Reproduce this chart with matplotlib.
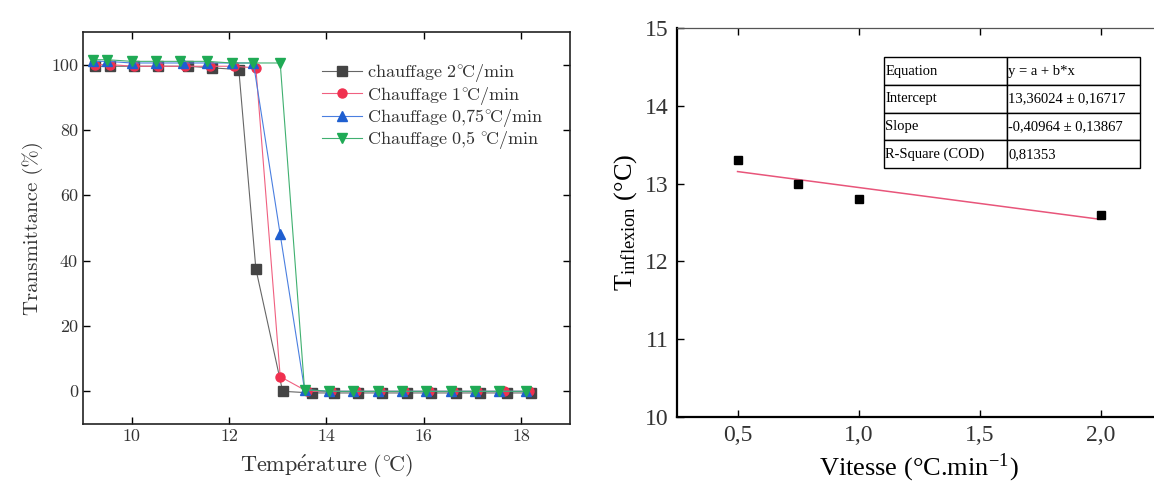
import numpy as np
import matplotlib
matplotlib.use('Agg')
import matplotlib.pyplot as plt
from matplotlib.font_manager import FontProperties

# ---- left panel: transmittance vs temperature ----
T_2 = [9.25, 9.55, 10.05, 10.55, 11.15, 11.65, 12.2, 12.55, 13.1, 13.7, 14.15, 14.65,
       15.15, 15.65, 16.15, 16.65, 17.15, 17.7, 18.2]
Y_2 = [99.5, 99.5, 99.5, 99.5, 99.5, 99, 98.5, 37.5, 0, -0.5, -0.5, -0.5,
       -0.5, -0.5, -0.5, -0.5, -0.5, -0.5, -0.5]
T_1 = [9.25, 9.55, 10.05, 10.55, 11.1, 11.6, 12.1, 12.55, 13.05, 13.6, 14.1, 14.6,
       15.1, 15.6, 16.1, 16.6, 17.1, 17.65, 18.15]
Y_1 = [100, 100, 99.5, 99.5, 99.5, 99.5, 99.5, 99, 4.5, 0, 0, 0,
       0, 0, 0, 0, 0, 0, 0]
T_075 = [9.2, 9.5, 10.0, 10.5, 11.05, 11.55, 12.05, 12.5, 13.05, 13.55, 14.05, 14.55,
         15.05, 15.55, 16.05, 16.55, 17.05, 17.55, 18.1]
Y_075 = [101, 101, 100.5, 100.5, 100.5, 100.5, 100.5, 100.5, 48, 0.5, 0, 0,
         0, 0, 0, 0, 0, 0, 0]
T_05 = [9.2, 9.5, 10.0, 10.5, 11.0, 11.55, 12.05, 12.5, 13.05, 13.55, 14.05, 14.55,
        15.05, 15.55, 16.05, 16.55, 17.05, 17.55, 18.1]
Y_05 = [101.5, 101.5, 101, 101, 101, 101, 100.5, 100.5, 100.5, 0.5, 0, 0,
        0, 0, 0, 0, 0, 0, 0]
labels_left = [r'$\mathrm{chauffage\ 2^{\circ}\!C/min}$',
               r'$\mathrm{Chauffage\ 1^{\circ}\!C/min}$',
               r'$\mathrm{Chauffage\ 0{,}75^{\circ}\!C/min}$',
               r'$\mathrm{Chauffage\ 0{,}5\ ^{\circ}\!C/min}$']

# ---- right panel: inflexion temperature vs heating rate ----
vitesse = [0.5, 0.75, 1.0, 2.0]
t_inflexion = [13.3, 13.0, 12.8, 12.6]
fit_a = 13.36024
fit_b = -0.40964
table_rows = [['Equation', 'y = a + b*x'],
              ['Intercept', '13,36024 ± 0,16717'],
              ['Slope', '-0,40964 ± 0,13867'],
              ['R-Square (COD)', '0,81353']]

fig = plt.figure(figsize=(11.54, 4.84), dpi=100)

# left axes
cm = ['cmr10', 'DejaVu Serif']
gray = '#333333'
ax1 = fig.add_axes([0.0719, 0.124, 0.422, 0.810])
series = [(T_2, Y_2, '#444444', '#666666', 's'),
          (T_1, Y_1, '#f0304f', '#f06080', 'o'),
          (T_075, Y_075, '#1f5fd0', '#4a7fe0', '^'),
          (T_05, Y_05, '#1faa55', '#40b070', 'v')]
for (tx, ty, mc, lc, mk), lab in zip(series, labels_left):
    ax1.plot(tx, ty, color=lc, lw=0.8, marker=mk, ms=6.5, mfc=mc, mec=mc, label=lab)
ax1.set_xlim(9, 19)
ax1.set_ylim(-10, 110)
ax1.set_xticks([10, 12, 14, 16, 18])
ax1.set_yticks([0, 20, 40, 60, 80, 100])
ax1.tick_params(direction='in', top=True, right=True, length=5, width=1, labelsize=13)
for lbl in ax1.get_xticklabels() + ax1.get_yticklabels():
    lbl.set_family(cm)
    lbl.set_color(gray)
for s in ax1.spines.values():
    s.set_linewidth(1.2)
    s.set_color('#222222')
ax1.set_xlabel(r'$\mathrm{Temp\acute{e}rature\ (^{\circ}\!C)}$', math_fontfamily='cm',
               fontsize=16, color=gray, labelpad=6)
ax1.set_ylabel('Transmittance (%)', family=cm, fontsize=15, color=gray, labelpad=6)
leg = ax1.legend(loc='upper left', bbox_to_anchor=(0.465, 0.955), frameon=False,
                 prop=FontProperties(size=13, math_fontfamily='cm'), handlelength=2.2,
                 handletextpad=0.3, labelspacing=0.02, borderpad=0.2)
for t in leg.get_texts():
    t.set_color(gray)

# right axes
tm = 'Liberation Serif'
ax2 = fig.add_axes([0.5867, 0.1384, 0.4194, 0.8036])
xfit = np.array([vitesse[0], vitesse[-1]])
ax2.plot(xfit, fit_a + fit_b * xfit, color='#e8557a', lw=1.1)
ax2.plot(vitesse, t_inflexion, 's', color='black', ms=6)
ax2.set_xlim(0.25, 2.25)
ax2.set_ylim(10, 15)
xt = [0.5, 1.0, 1.5, 2.0]
ax2.set_xticks(xt)
ax2.set_xticklabels([('%.1f' % v).replace('.', ',') for v in xt])
ax2.set_yticks([10, 11, 12, 13, 14, 15])
ax2.tick_params(direction='in', top=True, length=5, width=1, labelsize=17, pad=6)
for lbl in ax2.get_xticklabels() + ax2.get_yticklabels():
    lbl.set_family(tm)
    lbl.set_color(gray)
ax2.spines['right'].set_visible(False)
ax2.spines['top'].set_linewidth(0.9)
ax2.spines['top'].set_color('#555555')
ax2.spines['left'].set_linewidth(1.6)
ax2.spines['bottom'].set_linewidth(1.6)
ax2.set_xlabel('Vitesse (°C.min$^{\\mathregular{-1}}$)', family=tm, fontsize=19,
               labelpad=4, math_fontfamily='stix')
ax2.set_ylabel('T$_{\\mathregular{inflexion}}$ (°C)', family=tm, fontsize=19,
               labelpad=4, math_fontfamily='stix')

tab = ax2.table(cellText=table_rows, cellLoc='left', colWidths=[0.254, 0.275],
                bbox=[0.428, 0.640, 0.529, 0.285])
tab.auto_set_font_size(False)
for (r, c), cell in tab.get_celld().items():
    cell.set_linewidth(1.0)
    cell.PAD = 0.01
    cell.get_text().set_fontsize(10.5)
    cell.get_text().set_family(tm)

fig.savefig('out.png', dpi=100)
